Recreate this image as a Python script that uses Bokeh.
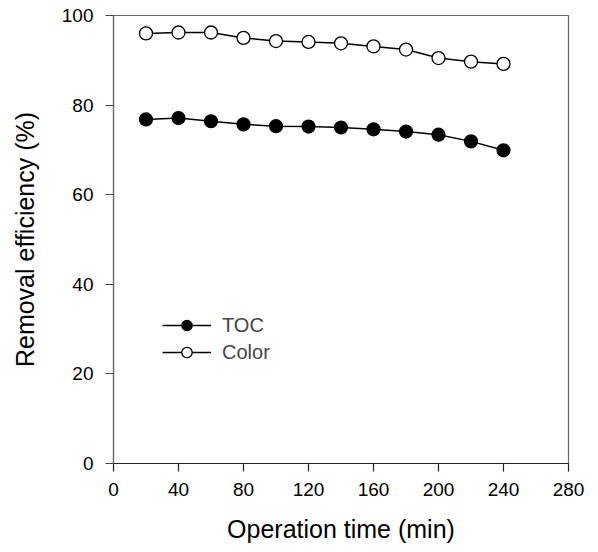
from bokeh.plotting import figure
from bokeh.models import Range1d, FixedTicker, Legend, LegendItem
from bokeh.embed import file_html
from bokeh.resources import INLINE

time_min = [20, 40, 60, 80, 100, 120, 140, 160, 180, 200, 220, 240]
toc = [76.8, 77.1, 76.4, 75.7, 75.3, 75.2, 75.0, 74.6, 74.1, 73.4, 71.9, 69.9]
color = [96.0, 96.2, 96.2, 95.0, 94.3, 94.1, 93.8, 93.1, 92.4, 90.5, 89.7, 89.2]
x_ticks = [0, 40, 80, 120, 160, 200, 240, 280]
y_ticks = [0, 20, 40, 60, 80, 100]

FONT = "Liberation Sans"

p = figure(width=598, height=552, output_backend="svg", toolbar_location=None,
           x_range=Range1d(0, 280), y_range=Range1d(0, 100),
           min_border_left=113, min_border_right=30, min_border_top=15, min_border_bottom=80)
p.frame_width = 455
p.frame_height = 448
p.grid.visible = False
p.outline_line_color = "#666666"
p.outline_line_width = 1.2

for ax in (p.xaxis[0], p.yaxis[0]):
    ax.major_tick_out = 8
    ax.major_tick_in = 0
    ax.minor_tick_out = 0
    ax.minor_tick_in = 0
    ax.major_label_text_font = FONT
    ax.major_label_text_font_size = "19px"
    ax.major_label_text_color = "black"
    ax.axis_label_text_font = FONT
    ax.axis_label_text_font_size = "25px"
    ax.axis_label_text_font_style = "normal"
    ax.axis_label_text_color = "black"
    ax.axis_line_width = 1.2
    ax.major_tick_line_width = 1.2

p.xaxis[0].axis_line_color = "#222222"
p.xaxis[0].major_tick_line_color = "#222222"
p.yaxis[0].axis_line_color = "#666666"
p.yaxis[0].major_tick_line_color = "#444444"

p.xaxis[0].ticker = FixedTicker(ticks=x_ticks)
p.yaxis[0].ticker = FixedTicker(ticks=y_ticks)
p.xaxis[0].axis_label = "Operation time (min)"
p.yaxis[0].axis_label = "Removal efficiency (%)"
p.xaxis[0].major_label_standoff = 11
p.yaxis[0].major_label_standoff = 12
p.xaxis[0].axis_label_standoff = 16
p.yaxis[0].axis_label_standoff = 20

l1 = p.line(time_min, toc, line_color="black", line_width=1.5)
s1 = p.scatter(time_min, toc, size=13, fill_color="black", line_color="black", line_width=1.2)
l2 = p.line(time_min, color, line_color="black", line_width=1.5)
s2 = p.scatter(time_min, color, size=13, fill_color="white", line_color="black", line_width=1.3)

legend = Legend(items=[LegendItem(label="TOC", renderers=[l1, s1]),
                       LegendItem(label="Color", renderers=[l2, s2])],
                location=(49, 98), orientation="vertical")
legend.glyph_width = 49
legend.glyph_height = 26
legend.label_height = 26
legend.spacing = 1
legend.padding = 0
legend.margin = 0
legend.label_standoff = 11
legend.label_text_font = FONT
legend.label_text_font_size = "20px"
legend.border_line_color = None
legend.background_fill_alpha = 0
p.add_layout(legend, "center")

open("out.html", "w").write(file_html(p, INLINE))
